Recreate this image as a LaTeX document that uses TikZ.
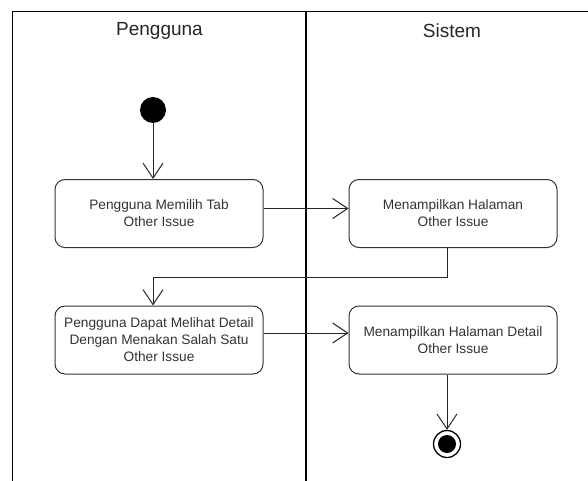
\documentclass[tikz,border=0pt]{standalone}
\usepackage{fontspec}
\setmainfont{Liberation Sans}
\usetikzlibrary{arrows.meta,positioning,calc}

\begin{document}
\begin{tikzpicture}[x=1pt,y=-1pt,
		lane/.style={draw=black,line width=1pt},
		act/.style={draw=black!80,line width=1pt,rounded corners=10pt,
			minimum width=208pt,minimum height=68pt,align=center,
			text=black!80,font=\fontsize{13.7}{17}\selectfont},
		flow/.style={draw=black!85,line width=1pt,
			-{Straight Barb[length=15pt,width=20pt]}},
		start/.style={circle,fill=black,minimum size=26pt,inner sep=0pt},
		stop/.style={circle,draw=black,line width=1.3pt,minimum size=27pt,inner sep=0pt,
			path picture={\fill[black] (path picture bounding box.center) circle (9pt);}}
	]
		
		\useasboundingbox (0,0) rectangle (588,481);
		
		% swimlanes
		\coordinate (TL) at (12,12);
		\coordinate (TR) at (588,12);
		\coordinate (BL) at (12,481);
		\coordinate (D1) at (306,12);
		\coordinate (D2) at (306,481);
		
		\draw[lane] (TR)--(TL)--(BL);
		\draw[lane,line width=2pt] (D1)--(D2);
		
		\node[font=\fontsize{19}{21}\selectfont,text=black!85] (hp) at (159.5,31) {Pengguna};
		\node[font=\fontsize{19}{21}\selectfont,text=black!85] (hs) at (452,31) {Sistem};
		
		% nodes
		\node[start] (init) at (153,110) {};
		\node[act] (p1) at (159,213.5) {Pengguna Memilih Tab\\Other Issue};
		\node[act] (s1) at (453,213.5) {Menampilkan Halaman\\Other Issue};
		\node[act] (p2) at (159,340) {Pengguna Dapat Melihat Detail\\Dengan Menakan Salah Satu\\Other Issue};
		\node[act] (s2) at (453,340) {Menampilkan Halaman Detail\\Other Issue};
		\node[stop] (fin) at (447,444) {};
		
		% flows
		\coordinate (c1) at (447,277);
		\draw[flow] (init) -- (init |- p1.north);
		\draw[flow] ([yshift=5pt]p1.east) -- ([yshift=5pt]p1.east -| s1.west);
		\draw[flow] (c1 |- s1.south) -- (c1) -- (c1 -| init) -- (init |- p2.north);
		\draw[flow] ([yshift=7pt]p2.east) -- ([yshift=7pt]p2.east -| s2.west);
		\draw[flow] (fin |- s2.south) -- (fin);
		
	\end{tikzpicture}
\end{document}
